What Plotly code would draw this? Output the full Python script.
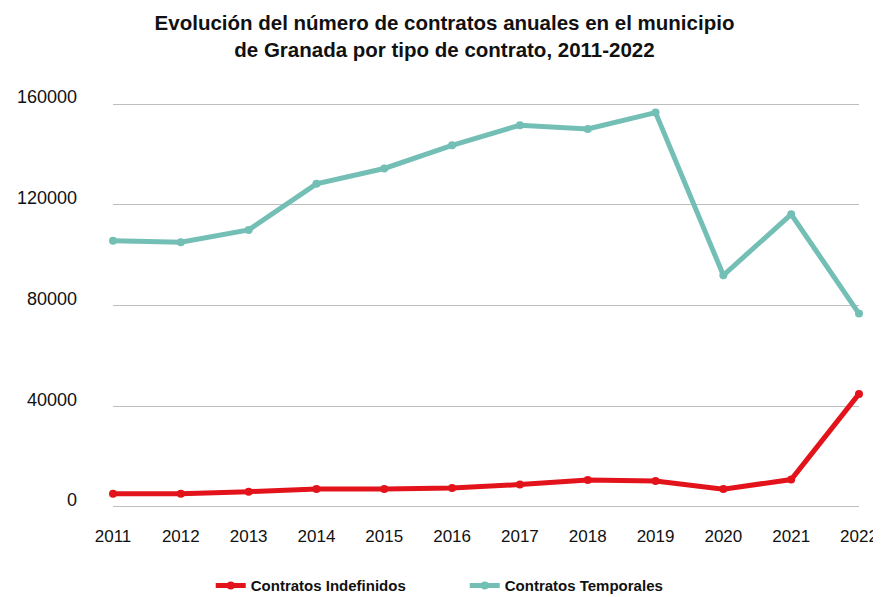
import plotly.graph_objects as go

# Datos
anios = [2011, 2012, 2013, 2014, 2015, 2016, 2017, 2018, 2019, 2020, 2021, 2022]
indefinidos = [5300, 5300, 6100, 7100, 7100, 7500, 8900, 10700, 10300, 7100, 10900, 44900]
temporales = [105700, 105100, 110000, 128300, 134400, 143600, 151600, 150100, 156600, 92000, 116200, 76800]
y_ticks = [0, 40000, 80000, 120000, 160000]

ROJO = '#E3131B'
VERDE = '#74BFB5'

# la página añade 8 px de margen al cuerpo: figura un poco más pequeña
ANCHO, ALTO = 873, 589

fig = go.Figure()

fig.add_trace(go.Scatter(
    x=anios, y=indefinidos, name='Contratos Indefinidos',
    mode='lines+markers', line={'color': ROJO, 'width': 5},
    marker={'color': ROJO, 'size': 8}, cliponaxis=False,
))
fig.add_trace(go.Scatter(
    x=anios, y=temporales, name='Contratos Temporales',
    mode='lines+markers', line={'color': VERDE, 'width': 5},
    marker={'color': VERDE, 'size': 8}, cliponaxis=False,
))

fig.update_layout(
    width=ANCHO, height=ALTO,
    margin={'l': 105, 'r': 22, 't': 95, 'b': 89, 'autoexpand': False},
    paper_bgcolor='white', plot_bgcolor='white',
    font={'family': 'Liberation Sans, Arial, sans-serif', 'size': 17, 'color': '#111111'},
    title={
        'text': '<b>Evolución del número de contratos anuales en el municipio<br>de Granada por tipo de contrato, 2011-2022</b>',
        'x': 0.5, 'xanchor': 'center', 'y': 1 - 22 / ALTO, 'yanchor': 'middle',
        'yref': 'container', 'font': {'size': 20.5, 'color': '#111111'},
    },
    xaxis={
        'range': [2011, 2022], 'tickvals': anios, 'showgrid': False,
        'zeroline': False, 'showline': False, 'ticks': '',
        'ticklabelstandoff': 16, 'automargin': False,
        'tickfont': {'size': 17},
    },
    yaxis={
        'range': [-400, 160400], 'tickvals': y_ticks, 'tickformat': 'd',
        'showgrid': True, 'gridcolor': '#BDBDBD', 'gridwidth': 1,
        'zeroline': False, 'showline': False, 'ticks': '',
        'ticklabelstandoff': 35, 'ticklabelshift': -7, 'automargin': False,
        'tickfont': {'size': 18},
    },
    legend={
        'orientation': 'h', 'x': 0.131, 'xanchor': 'left', 'y': -0.151, 'yanchor': 'top',
        'font': {'size': 15, 'color': '#111111', 'weight': 'bold'},
        'entrywidth': 209,
    },
    showlegend=True,
)

fig.write_html("out.html")
